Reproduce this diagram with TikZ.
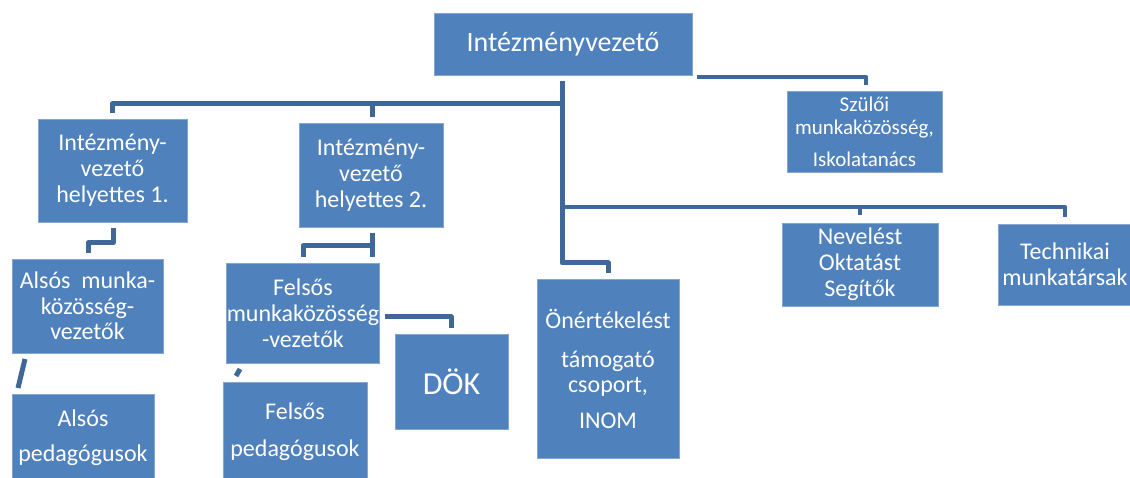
\documentclass[tikz,border=0pt]{standalone}
\usepackage{fontspec}
\setmainfont{Carlito}
\definecolor{boxblue}{HTML}{4F81BD}
\definecolor{linkblue}{HTML}{3F6899}
\begin{document}
\begin{tikzpicture}[x=1pt,y=-1pt,
  box/.style={rectangle, fill=boxblue, draw=boxblue!70!white, line width=0.8pt, inner sep=0pt, outer sep=0pt, text=white, align=center, font=\fontsize{24}{26}\selectfont},
  link/.style={draw=linkblue, line width=5pt, line join=round},
  thinlink/.style={draw=linkblue, line width=4.5pt, line join=round}]
\useasboundingbox (0,0) rectangle (1130,478);
% boxes
\node[box, minimum width=258, minimum height=62, font=\fontsize{28}{30}\selectfont] (top) at (563,44) {Intézményvezető};
\node[box, minimum width=155, minimum height=81, font=\fontsize{21}{23}\selectfont] (szuloi) at (864.5,131.5) {Szülői\\munkaközösség,\\[9pt]Iskolatanács};
\node[box, minimum width=149, minimum height=103] (ih1) at (112.5,170.5) {Intézmény-\\vezető\\helyettes 1.};
\node[box, minimum width=144, minimum height=104] (ih2) at (371,175) {Intézmény-\\vezető\\helyettes 2.};
\node[box, minimum width=151, minimum height=94, font=\fontsize{24}{25.5}\selectfont] (alsmk) at (87.5,306) {Alsós\ \ munka-\\közösség-\\vezetők};
\node[box, minimum width=142, minimum height=88] (alsped) at (83,438) {Alsós\\[9pt]pedagógusok};
\node[box, minimum width=152, minimum height=100] (felsmk) at (303,313) {Felsős\\munkaközösség\\-vezetők};
\node[box, minimum width=144, minimum height=100] (felsped) at (295,432) {Felsős\\[11pt]pedagógusok};
\node[box, minimum width=113, minimum height=95, font=\fontsize{32}{34}\selectfont] (dok) at (451.5,381.5) {DÖK};
\node[box, minimum width=142, minimum height=179, font=\fontsize{24}{25}\selectfont] (onert) at (608,368.5) {Önértékelést\\[14pt]támogató\\csoport,\\[11pt]INOM};
\node[box, minimum width=156, minimum height=83] (nevel) at (860,264.5) {Nevelést\\Oktatást\\Segítők};
\node[box, minimum width=134, minimum height=81] (tech) at (1065,264.5) {Technikai\\munkatársak};
% connector points
\coordinate (topR) at (697,77);
\coordinate (szA) at (866,77);
\coordinate (szB) at (866,85);
\coordinate (trA) at (562,81);
\coordinate (trB) at (562,263);
\coordinate (trC) at (608,263);
\coordinate (trD) at (608,273);
\coordinate (lbL) at (112,104);
\coordinate (lbR) at (562,104);
\coordinate (lbD1) at (112,113);
\coordinate (lbM) at (372,104);
\coordinate (lbD2) at (372,117);
\coordinate (rbL) at (562,207);
\coordinate (rbR) at (1065,207);
\coordinate (rbD2) at (1065,217);
\coordinate (rbM) at (860,207);
\coordinate (rbD1) at (860,215);
\coordinate (a1) at (113,228);
\coordinate (a2) at (113,243);
\coordinate (a3) at (88,243);
\coordinate (a4) at (88,253);
\coordinate (b1) at (372,233);
\coordinate (b2) at (372,257);
\coordinate (b3) at (372,246);
\coordinate (b4) at (303,246);
\coordinate (b5) at (303,257);
\coordinate (c1) at (385,317);
\coordinate (c2) at (451,317);
\coordinate (c3) at (451,328);
\coordinate (d1) at (25,359);
\coordinate (d2) at (18,388);
\coordinate (e1) at (240,369);
\coordinate (e2) at (236,376);
% connectors
\draw[thinlink] (topR) -- (szA) -- (szB);
\draw[link] (trA) -- (trB) -- (trC) -- (trD);
\draw[link] (lbD1) -- (lbL) -- (lbR);
\draw[link] (lbM) -- (lbD2);
\draw[thinlink] (rbL) -- (rbR) -- (rbD2);
\draw[thinlink] (rbM) -- (rbD1);
\draw[link] (a1) -- (a2) -- (a3) -- (a4);
\draw[link] (b1) -- (b2);
\draw[link] (b3) -- (b4) -- (b5);
\draw[link] (c1) -- (c2) -- (c3);
\draw[link] (d1) -- (d2);
\draw[link] (e1) -- (e2);
\end{tikzpicture}
\end{document}
